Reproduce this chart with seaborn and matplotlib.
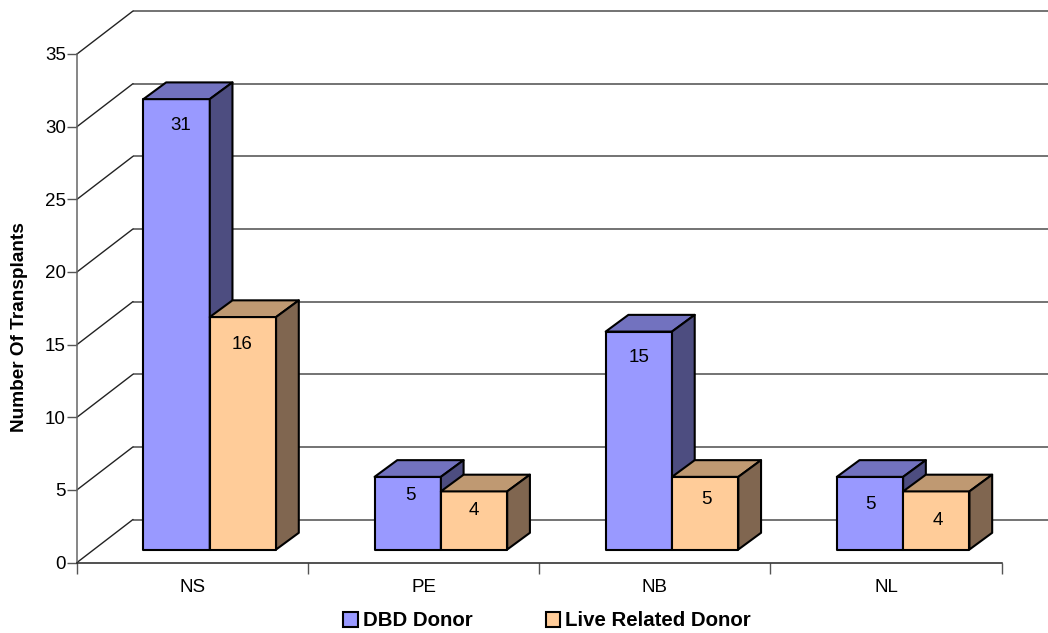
import matplotlib
matplotlib.use("Agg")
import matplotlib.pyplot as plt
import pandas as pd
import seaborn as sns
from matplotlib.patches import Polygon

regions = ["NS", "PE", "NB", "NL"]
dbd_donor = [31, 5, 15, 5]
live_donor = [16, 4, 5, 4]
y_ticks = [0, 5, 10, 15, 20, 25, 30, 35]
series_names = ["DBD Donor", "Live Related Donor"]

W, H = 1048, 633
X0, X1 = 77, 1001.5
Y0, Y35 = 562.5, 54
WALL_DX, WALL_DY = 56, 43
BAR_DX, BAR_DY = 17.2, 13
DEPTH_DX, DEPTH_DY = 22.7, 16.7

# label offsets from the bar centre / bar top, in pixels (the original is uneven)
label_dx = [[4.5, 2.3, 0.5, 0], [-1, -0.3, 1.7, 2]]
label_dy = [[26.4, 18.7, 25.8, 27.4], [27, 19.2, 22.7, 29.3]]

sns.set_theme(style="white")
plt.rcParams["font.family"] = ["Liberation Sans", "DejaVu Sans"]

df = pd.DataFrame({
    "region": regions * 2,
    "series": [series_names[0]] * 4 + [series_names[1]] * 4,
    "value": dbd_donor + live_donor,
})

fig = plt.figure(figsize=(W / 100, H / 100), dpi=100)
ax = fig.add_axes([X0 / W, 1 - Y0 / H, (X1 - X0) / W, (Y0 - Y35) / H])
sns.barplot(data=df, x="region", y="value", hue="series", order=regions,
            hue_order=series_names, palette=["#9999FF", "#FFCC99"],
            width=0.574, gap=0, saturation=1, edgecolor="black", linewidth=1.5, ax=ax)
ax.set_xlim(-0.5, 3.5)
ax.set_ylim(0, 35)

# pixel -> data scales
sx = 4 / (X1 - X0)
sy = 35 / (Y0 - Y35)

wall_x = -0.5 + WALL_DX * sx
wall_y = WALL_DY * sy
for t in y_ticks:
    ax.plot([wall_x, 3.5 + WALL_DX * sx], [t + wall_y, t + wall_y], color="#4d4d4d", lw=1.1,
            clip_on=False, zorder=1, solid_capstyle="butt")
    ax.plot([-0.5, wall_x], [t, t + wall_y], color="#222222", lw=1, clip_on=False, zorder=1)

top_shades = ["#7272BF", "#BF9972"]
side_shades = ["#4D4D80", "#806650"]
dx, dy = DEPTH_DX * sx, DEPTH_DY * sy
for i, container in enumerate(ax.containers):
    for j, bar in enumerate(container):
        bar.set_x(bar.get_x() + BAR_DX * sx)
        bar.set_y(BAR_DY * sy)
        bar.set_clip_on(False)
        bar.set_zorder(3 + i + j * 2)
        bar.set_joinstyle("round")
        x, y, w, h = bar.get_x(), bar.get_y(), bar.get_width(), bar.get_height()
        top = Polygon([(x, y + h), (x + dx, y + h + dy), (x + w + dx, y + h + dy), (x + w, y + h)],
                      fc=top_shades[i], ec="black", lw=1.5, joinstyle="round", clip_on=False, zorder=bar.get_zorder())
        side = Polygon([(x + w, y), (x + w + dx, y + dy), (x + w + dx, y + h + dy), (x + w, y + h)],
                       fc=side_shades[i], ec="black", lw=1.5, joinstyle="round", clip_on=False, zorder=bar.get_zorder())
        ax.add_patch(top)
        ax.add_patch(side)
        ax.text(x + w / 2 + label_dx[i][j] * sx, y + h - label_dy[i][j] * sy, str(int(h)),
                ha="center", va="center", fontsize=13.5, color="black", zorder=20)

sns.despine(ax=ax, top=True, right=True)
for s in ["left", "bottom"]:
    ax.spines[s].set_zorder(2)
ax.spines["left"].set_color("#666666")
ax.spines["left"].set_linewidth(1.1)
ax.spines["bottom"].set_color("#222222")
ax.spines["bottom"].set_linewidth(1.1)

ax.set_yticks(y_ticks)
ax.set_xticks([-0.5, 0.5, 1.5, 2.5, 3.5], labels=[])
ax.set_xticks([0, 1, 2, 3], labels=regions, minor=True)
ax.tick_params(axis="y", left=True, length=7, width=1, color="#555555", labelsize=13.5, pad=1, labelcolor="black")
ax.tick_params(axis="x", which="major", bottom=True, length=8, width=1, color="#555555")
ax.tick_params(axis="x", which="minor", bottom=False, labelsize=13.5, pad=8, labelcolor="black")
ax.set_xlabel("")
ax.set_ylabel("")
fig.text(20 / W, 1 - 327 / H, "Number Of Transplants", rotation=90, ha="center", va="center",
         fontsize=13.7, fontweight="bold", color="black")

handles, labels = ax.get_legend_handles_labels()
ax.legend(handles, labels, loc="center", bbox_to_anchor=(547 / W, 1 - 621 / H),
          bbox_transform=fig.transFigure, ncols=2, frameon=False, title=None,
          prop={"weight": "bold", "size": 14.7}, labelcolor="black",
          handlelength=0.7, handleheight=0.7, handletextpad=0.25, columnspacing=3.6,
          borderpad=0, borderaxespad=0)

fig.savefig("out.png", dpi=100)
